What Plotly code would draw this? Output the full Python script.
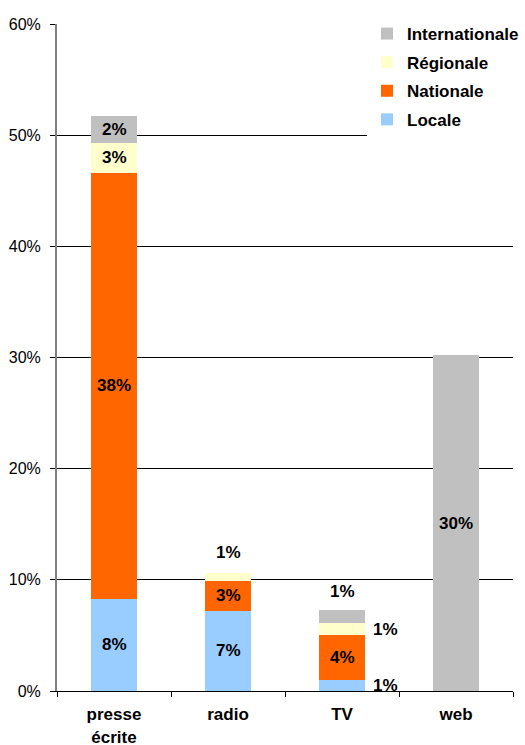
import plotly.graph_objects as go

# Share of coverage by media type and geographic scope (%)
categories = ["presse<br>écrite", "radio", "TV", "web"]
locale = [8.3, 7.2, 1.0, 0.0]
nationale = [38.3, 2.7, 4.0, 0.0]
regionale = [2.7, 0.7, 1.1, 0.0]
internationale = [2.4, 0.0, 1.2, 30.2]

y_ticks = [0, 10, 20, 30, 40, 50, 60]
y_tick_labels = [f"{v}%" for v in y_ticks]

series = [
    ("Locale", locale, "#99CCFF"),
    ("Nationale", nationale, "#FF6600"),
    ("Régionale", regionale, "#FFFFCC"),
    ("Internationale", internationale, "#C0C0C0"),
]

# where each value label goes when the segment is too thin to hold it
label_side = {
    ("Régionale", "radio"): "above",
    ("Internationale", "TV"): "above",
    ("Régionale", "TV"): "right",
    ("Locale", "TV"): "right",
}

FONT = "Liberation Sans, Arial, sans-serif"

fig = go.Figure()
n = len(series)
for i, (name, vals, color) in enumerate(series):
    fig.add_trace(go.Bar(
        x=categories, y=vals, name=name, legendgroup=name,
        legendrank=n - i,
        marker=dict(color=color, line=dict(width=0)),
        hoverinfo="skip",
    ))

annotations = []
base = [0.0] * len(categories)
for name, vals, color in series:
    for j, cat in enumerate(categories):
        v = vals[j]
        if v <= 0:
            continue
        mid = base[j] + v / 2
        side = label_side.get((name, cat), "inside")
        ann = dict(x=cat, y=mid, xref="x", yref="y", text=f"{round(v):d}%",
                   showarrow=False,
                   font=dict(family=FONT, size=17, color="#000000", weight="bold"))
        if side == "above":
            ann["yshift"] = 25
        elif side == "right":
            ann["xshift"] = 43
        annotations.append(ann)
        base[j] += v

fig.update_layout(
    barmode="stack",
    bargap=0.59,
    width=525, height=745,
    margin=dict(l=57, r=12, t=24, b=54, autoexpand=False),
    paper_bgcolor="white", plot_bgcolor="white",
    font=dict(family=FONT, color="#000000"),
    annotations=annotations,
    showlegend=True,
    legend=dict(
        traceorder="grouped",
        tracegroupgap=3.5,
        xref="container", yref="container",
        x=367 / 525, y=1 - 16 / 745, xanchor="left", yanchor="top",
        bgcolor="white", borderwidth=0,
        font=dict(family=FONT, size=17, color="#000000", weight="bold"),
        itemwidth=30,
    ),
    xaxis=dict(
        type="category",
        showline=True, linecolor="#000000", linewidth=1,
        ticks="outside", tickson="boundaries", ticklen=5, tickcolor="#000000",
        ticklabelstandoff=8,
        tickfont=dict(family=FONT, size=17, color="#000000", weight="bold"),
        showgrid=False,
    ),
    yaxis=dict(
        range=[0, 60],
        tickmode="array",
        tickvals=y_ticks,
        ticktext=y_tick_labels,
        showline=True, linecolor="#808080", linewidth=2,
        ticks="outside", ticklen=5, tickcolor="#000000",
        ticklabelstandoff=6,
        tickfont=dict(family=FONT, size=16, color="#000000"),
        showgrid=True, gridcolor="#000000", gridwidth=1,
        zeroline=False,
    ),
)

fig.write_html("out.html")
